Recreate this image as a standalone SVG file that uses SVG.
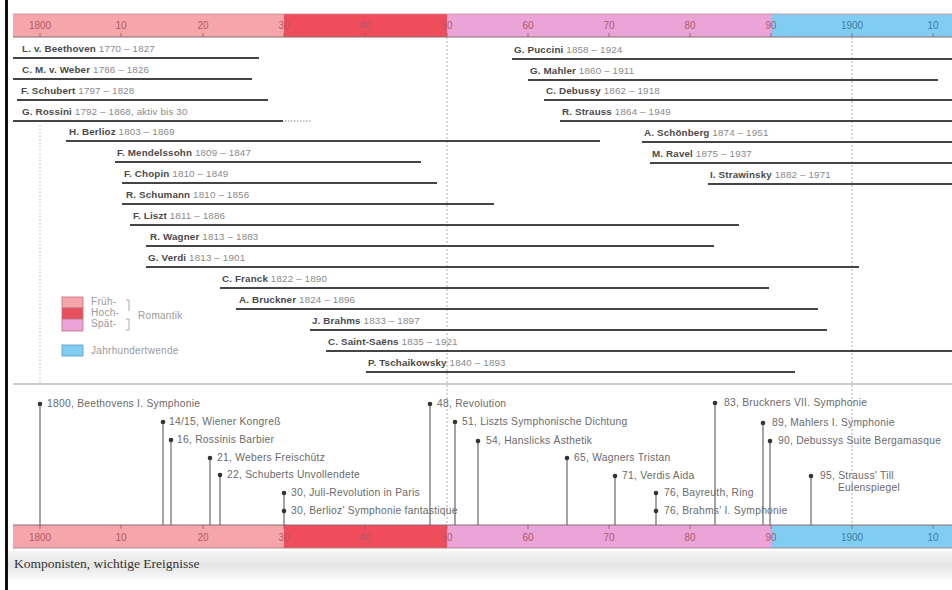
<svg xmlns="http://www.w3.org/2000/svg" width="952" height="590" viewBox="0 0 952 590">
<defs>
<style>
.nm{font-family:"Liberation Sans",Arial,sans-serif;font-size:9.8px;font-weight:bold;fill:#4a4a4a;letter-spacing:0.15px}
.dt{font-family:"Liberation Sans",Arial,sans-serif;font-size:9.8px;font-weight:normal;fill:#8a8a8a;letter-spacing:0.15px}
.life{stroke:#454545;stroke-width:2;fill:none}
.ev{font-family:"Liberation Sans",Arial,sans-serif;font-size:10.3px;fill:#6a6a6a;letter-spacing:0.25px}
.stem{stroke:#5a5a5a;stroke-width:1.1;fill:none}
.dot{fill:#333}
.tk{font-family:"Liberation Sans",Arial,sans-serif;font-size:10px;text-anchor:middle}
.tr{fill:#b05a68}
.tb{fill:#3d7ea8}
.tick{stroke:#8a5a60;stroke-width:0.8}
.lg{font-family:"Liberation Sans",Arial,sans-serif;font-size:10px;fill:#9a9a9a;letter-spacing:0.3px}
.guide{stroke:#999;stroke-width:0.8;stroke-dasharray:2 2;fill:none}
</style>
<linearGradient id="cap" x1="0" y1="0" x2="0" y2="1">
<stop offset="0" stop-color="#f4f4f4"/>
<stop offset="0.5" stop-color="#e6e6e6"/>
<stop offset="1" stop-color="#f8f8f8"/>
</linearGradient>
</defs>
<rect width="952" height="590" fill="#fff"/>
<rect x="5" y="0" width="3" height="590" fill="#111"/>

<!-- top time bar -->
<g id="topbar">
<rect x="13" y="14" width="271" height="23" fill="#f6a6aa"/>
<rect x="284" y="14" width="163" height="23" fill="#ef4d5c"/>
<rect x="447" y="14" width="324" height="23" fill="#eaa4d8"/>
<rect x="771" y="14" width="181" height="23" fill="#80cdf1"/>
<line x1="13" y1="14" x2="952" y2="14" stroke="#c98a95" stroke-width="0.8"/>
<line x1="13" y1="37" x2="952" y2="37" stroke="#8a6a70" stroke-width="1"/>
<g class="tick">
<line x1="40" y1="33" x2="40" y2="37"/><line x1="121" y1="33" x2="121" y2="37"/><line x1="203" y1="33" x2="203" y2="37"/><line x1="284" y1="33" x2="284" y2="37"/><line x1="365" y1="33" x2="365" y2="37"/><line x1="447" y1="33" x2="447" y2="37"/><line x1="528" y1="33" x2="528" y2="37"/><line x1="609" y1="33" x2="609" y2="37"/><line x1="690" y1="33" x2="690" y2="37"/><line x1="771" y1="33" x2="771" y2="37"/><line x1="852" y1="33" x2="852" y2="37"/><line x1="933" y1="33" x2="933" y2="37"/>
</g>
<text class="tk tr" x="40" y="29">1800</text><text class="tk tr" x="121" y="29">10</text><text class="tk tr" x="203" y="29">20</text><text class="tk tr" x="284" y="29">30</text><text class="tk tr" x="365" y="29">40</text><text class="tk tr" x="447" y="29">50</text><text class="tk tr" x="528" y="29">60</text><text class="tk tr" x="609" y="29">70</text><text class="tk tr" x="690" y="29">80</text><text class="tk tr" x="771" y="29">90</text><text class="tk tb" x="852" y="29">1900</text><text class="tk tb" x="933" y="29">10</text>
</g>

<!-- bottom time bar -->
<g id="bottombar">
<rect x="13" y="525" width="271" height="23" fill="#f6a6aa"/>
<rect x="284" y="525" width="163" height="23" fill="#ef4d5c"/>
<rect x="447" y="525" width="324" height="23" fill="#eaa4d8"/>
<rect x="771" y="525" width="181" height="23" fill="#80cdf1"/>
<line x1="13" y1="525" x2="952" y2="525" stroke="#8a6a70" stroke-width="1"/>
<line x1="13" y1="548" x2="952" y2="548" stroke="#9a7a80" stroke-width="0.8"/>
<g class="tick">
<line x1="40" y1="525" x2="40" y2="529"/><line x1="121" y1="525" x2="121" y2="529"/><line x1="203" y1="525" x2="203" y2="529"/><line x1="284" y1="525" x2="284" y2="529"/><line x1="365" y1="525" x2="365" y2="529"/><line x1="447" y1="525" x2="447" y2="529"/><line x1="528" y1="525" x2="528" y2="529"/><line x1="609" y1="525" x2="609" y2="529"/><line x1="690" y1="525" x2="690" y2="529"/><line x1="771" y1="525" x2="771" y2="529"/><line x1="852" y1="525" x2="852" y2="529"/><line x1="933" y1="525" x2="933" y2="529"/>
</g>
<text class="tk tr" x="40" y="541">1800</text><text class="tk tr" x="121" y="541">10</text><text class="tk tr" x="203" y="541">20</text><text class="tk tr" x="284" y="541">30</text><text class="tk tr" x="365" y="541">40</text><text class="tk tr" x="447" y="541">50</text><text class="tk tr" x="528" y="541">60</text><text class="tk tr" x="609" y="541">70</text><text class="tk tr" x="690" y="541">80</text><text class="tk tr" x="771" y="541">90</text><text class="tk tb" x="852" y="541">1900</text><text class="tk tb" x="933" y="541">10</text>
</g>

<!-- caption -->
<rect x="8" y="551" width="944" height="28" fill="url(#cap)"/>
<text x="14" y="568" font-family="'Liberation Serif','Times New Roman',serif" font-size="13.5" fill="#333">Komponisten, wichtige Ereignisse</text>

<!-- guides and separator -->
<line class="guide" x1="447" y1="37" x2="447" y2="525"/>
<line class="guide" x1="852" y1="37" x2="852" y2="525"/>
<line x1="40" y1="125" x2="40" y2="383" stroke="#aaa" stroke-width="0.8" stroke-dasharray="1.5 2"/>
<line x1="13" y1="384" x2="952" y2="384" stroke="#999" stroke-width="1.2"/>

<!-- composers -->
<g id="beethoven"><line class="life" x1="13" y1="58" x2="259" y2="58"/><text x="22" y="52"><tspan class="nm">L. v. Beethoven</tspan><tspan class="dt"> 1770 – 1827</tspan></text></g>
<g id="weber"><line class="life" x1="13" y1="79" x2="252" y2="79"/><text x="22" y="73"><tspan class="nm">C. M. v. Weber</tspan><tspan class="dt"> 1786 – 1826</tspan></text></g>
<g id="schubert"><line class="life" x1="17" y1="100" x2="268" y2="100"/><text x="21" y="94"><tspan class="nm">F. Schubert</tspan><tspan class="dt"> 1797 – 1828</tspan></text></g>
<g id="rossini"><line class="life" x1="13" y1="121" x2="283" y2="121"/><line x1="285" y1="121" x2="312" y2="121" stroke="#888" stroke-width="1" stroke-dasharray="1.5 1.5"/><text x="22" y="115"><tspan class="nm">G. Rossini</tspan><tspan class="dt"> 1792 – 1868, aktiv bis 30</tspan></text></g>
<g id="berlioz"><line class="life" x1="66" y1="141" x2="600" y2="141"/><text x="69" y="135"><tspan class="nm">H. Berlioz</tspan><tspan class="dt"> 1803 – 1869</tspan></text></g>
<g id="mendelssohn"><line class="life" x1="115" y1="162" x2="421" y2="162"/><text x="117" y="156"><tspan class="nm">F. Mendelssohn</tspan><tspan class="dt"> 1809 – 1847</tspan></text></g>
<g id="chopin"><line class="life" x1="122" y1="183" x2="437" y2="183"/><text x="124" y="177"><tspan class="nm">F. Chopin</tspan><tspan class="dt"> 1810 – 1849</tspan></text></g>
<g id="schumann"><line class="life" x1="122" y1="204" x2="494" y2="204"/><text x="126" y="198"><tspan class="nm">R. Schumann</tspan><tspan class="dt"> 1810 – 1856</tspan></text></g>
<g id="liszt"><line class="life" x1="130" y1="225" x2="739" y2="225"/><text x="133" y="219"><tspan class="nm">F. Liszt</tspan><tspan class="dt"> 1811 – 1886</tspan></text></g>
<g id="wagner"><line class="life" x1="146" y1="246" x2="714" y2="246"/><text x="150" y="240"><tspan class="nm">R. Wagner</tspan><tspan class="dt"> 1813 – 1883</tspan></text></g>
<g id="verdi"><line class="life" x1="146" y1="267" x2="859" y2="267"/><text x="148" y="261"><tspan class="nm">G. Verdi</tspan><tspan class="dt"> 1813 – 1901</tspan></text></g>
<g id="franck"><line class="life" x1="220" y1="288" x2="769" y2="288"/><text x="222" y="282"><tspan class="nm">C. Franck</tspan><tspan class="dt"> 1822 – 1890</tspan></text></g>
<g id="bruckner"><line class="life" x1="236" y1="309" x2="818" y2="309"/><text x="239" y="303"><tspan class="nm">A. Bruckner</tspan><tspan class="dt"> 1824 – 1896</tspan></text></g>
<g id="brahms"><line class="life" x1="310" y1="330" x2="827" y2="330"/><text x="312" y="324"><tspan class="nm">J. Brahms</tspan><tspan class="dt"> 1833 – 1897</tspan></text></g>
<g id="saintsaens"><line class="life" x1="326" y1="351" x2="952" y2="351"/><text x="328" y="345"><tspan class="nm">C. Saint-Saëns</tspan><tspan class="dt"> 1835 – 1921</tspan></text></g>
<g id="tschaikowsky"><line class="life" x1="366" y1="372" x2="795" y2="372"/><text x="368" y="366"><tspan class="nm">P. Tschaikowsky</tspan><tspan class="dt"> 1840 – 1893</tspan></text></g>
<g id="puccini"><line class="life" x1="512" y1="59" x2="952" y2="59"/><text x="514" y="53"><tspan class="nm">G. Puccini</tspan><tspan class="dt"> 1858 – 1924</tspan></text></g>
<g id="mahler"><line class="life" x1="528" y1="80" x2="938" y2="80"/><text x="530" y="74"><tspan class="nm">G. Mahler</tspan><tspan class="dt"> 1860 – 1911</tspan></text></g>
<g id="debussy"><line class="life" x1="544" y1="100" x2="952" y2="100"/><text x="546" y="94"><tspan class="nm">C. Debussy</tspan><tspan class="dt"> 1862 – 1918</tspan></text></g>
<g id="strauss"><line class="life" x1="560" y1="121" x2="952" y2="121"/><text x="562" y="115"><tspan class="nm">R. Strauss</tspan><tspan class="dt"> 1864 – 1949</tspan></text></g>
<g id="schoenberg"><line class="life" x1="642" y1="142" x2="952" y2="142"/><text x="644" y="136"><tspan class="nm">A. Schönberg</tspan><tspan class="dt"> 1874 – 1951</tspan></text></g>
<g id="ravel"><line class="life" x1="650" y1="163" x2="952" y2="163"/><text x="652" y="157"><tspan class="nm">M. Ravel</tspan><tspan class="dt"> 1875 – 1937</tspan></text></g>
<g id="strawinsky"><line class="life" x1="708" y1="184" x2="952" y2="184"/><text x="710" y="178"><tspan class="nm">I. Strawinsky</tspan><tspan class="dt"> 1882 – 1971</tspan></text></g>

<!-- legend -->
<g id="legend">
<rect x="62" y="297" width="21" height="11" fill="#f6a6aa" stroke="#c07080" stroke-width="0.8"/>
<rect x="62" y="308" width="21" height="11" fill="#e8505e" stroke="#c07080" stroke-width="0.8"/>
<rect x="62" y="319" width="21" height="12" fill="#eaa4d8" stroke="#c07080" stroke-width="0.8"/>
<text class="lg" x="91" y="305">Früh-</text>
<text class="lg" x="91" y="316">Hoch-</text>
<text class="lg" x="91" y="327">Spät-</text>
<path d="M126 300 H129 V311 M126 319 H129 V330 H126" stroke="#aaa" stroke-width="1" fill="none"/>
<text class="lg" x="138" y="319">Romantik</text>
<rect x="62" y="345" width="21" height="11" fill="#80cdf1" stroke="#5a9ac0" stroke-width="0.8"/>
<text class="lg" x="91" y="354">Jahrhundertwende</text>
</g>

<!-- event stems -->
<g id="connectors">
<line class="stem" x1="40" y1="404" x2="40" y2="525"/>
<line class="stem" x1="163" y1="422" x2="163" y2="525"/>
<line class="stem" x1="171" y1="440" x2="171" y2="525"/>
<line class="stem" x1="210" y1="458" x2="210" y2="525"/>
<line class="stem" x1="220" y1="475" x2="220" y2="525"/>
<line class="stem" x1="284" y1="493" x2="284" y2="525"/>
<line class="stem" x1="430" y1="404" x2="430" y2="525"/>
<line class="stem" x1="455" y1="422" x2="455" y2="525"/>
<line class="stem" x1="478" y1="441" x2="478" y2="525"/>
<line class="stem" x1="567" y1="458" x2="567" y2="525"/>
<line class="stem" x1="615" y1="476" x2="615" y2="525"/>
<line class="stem" x1="656" y1="493" x2="656" y2="525"/>
<line class="stem" x1="715" y1="403" x2="715" y2="525"/>
<line class="stem" x1="763" y1="423" x2="763" y2="525"/>
<line class="stem" x1="770" y1="441" x2="770" y2="525"/>
<line class="stem" x1="811" y1="476" x2="811" y2="525"/>
</g>

<!-- events -->
<g id="ev1800"><circle class="dot" cx="40" cy="404" r="2.3"/><text class="ev" x="47" y="407">1800, Beethovens I. Symphonie</text></g>
<g id="ev1815"><circle class="dot" cx="163" cy="422" r="2.3"/><text class="ev" x="169" y="425">14/15, Wiener Kongreß</text></g>
<g id="ev1816"><circle class="dot" cx="171" cy="440" r="2.3"/><text class="ev" x="177" y="443">16, Rossinis Barbier</text></g>
<g id="ev1821"><circle class="dot" cx="210" cy="458" r="2.3"/><text class="ev" x="217" y="461">21, Webers Freischütz</text></g>
<g id="ev1822"><circle class="dot" cx="220" cy="475" r="2.3"/><text class="ev" x="227" y="478">22, Schuberts Unvollendete</text></g>
<g id="ev1830a"><circle class="dot" cx="284" cy="493" r="2.3"/><text class="ev" x="291" y="496">30, Juli-Revolution in Paris</text></g>
<g id="ev1830b"><circle class="dot" cx="284" cy="511" r="2.3"/><text class="ev" x="291" y="514">30, Berlioz' Symphonie fantastique</text></g>
<g id="ev1848"><circle class="dot" cx="430" cy="404" r="2.3"/><text class="ev" x="437" y="407">48, Revolution</text></g>
<g id="ev1851"><circle class="dot" cx="455" cy="422" r="2.3"/><text class="ev" x="462" y="425">51, Liszts Symphonische Dichtung</text></g>
<g id="ev1854"><circle class="dot" cx="478" cy="441" r="2.3"/><text class="ev" x="486" y="444">54, Hanslicks  Ästhetik</text></g>
<g id="ev1865"><circle class="dot" cx="567" cy="458" r="2.3"/><text class="ev" x="574" y="461">65, Wagners Tristan</text></g>
<g id="ev1871"><circle class="dot" cx="615" cy="476" r="2.3"/><text class="ev" x="622" y="479">71, Verdis Aida</text></g>
<g id="ev1876a"><circle class="dot" cx="656" cy="493" r="2.3"/><text class="ev" x="664" y="496">76, Bayreuth, Ring</text></g>
<g id="ev1876b"><circle class="dot" cx="656" cy="511" r="2.3"/><text class="ev" x="664" y="514">76, Brahms' I. Symphonie</text></g>
<g id="ev1883"><circle class="dot" cx="715" cy="403" r="2.3"/><text class="ev" x="724" y="406">83, Bruckners VII. Symphonie</text></g>
<g id="ev1889"><circle class="dot" cx="763" cy="423" r="2.3"/><text class="ev" x="772" y="426">89, Mahlers I. Symphonie</text></g>
<g id="ev1890"><circle class="dot" cx="770" cy="441" r="2.3"/><text class="ev" x="778" y="444">90, Debussys Suite Bergamasque</text></g>
<g id="ev1895"><circle class="dot" cx="811" cy="476" r="2.3"/><text class="ev" x="820" y="479">95, Strauss' Till</text><text class="ev" x="838" y="491">Eulenspiegel</text></g>
</svg>
